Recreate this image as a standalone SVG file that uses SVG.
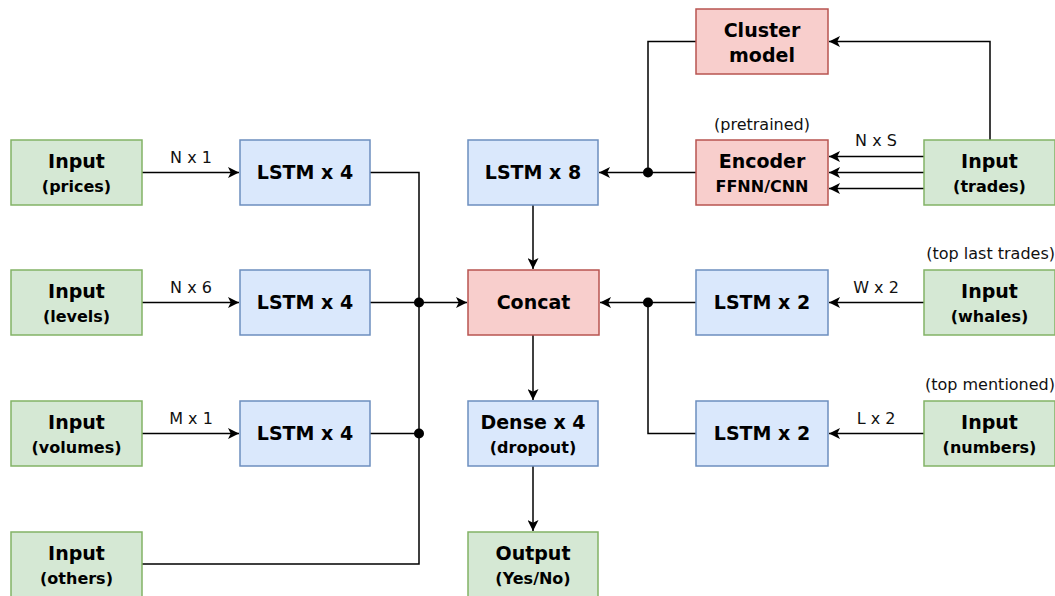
<svg xmlns="http://www.w3.org/2000/svg" width="1055" height="596" viewBox="0 0 1055 596">
<style>
.g{fill:#d5e8d4;stroke:#82b366;stroke-width:1.5}
.b{fill:#dae8fc;stroke:#6c8ebf;stroke-width:1.5}
.r{fill:#f8cecc;stroke:#b85450;stroke-width:1.5}
.t1{font-family:"DejaVu Sans",Verdana,sans-serif;font-weight:bold;font-size:19px;fill:#000;text-anchor:middle}
.t2{font-family:"DejaVu Sans",Verdana,sans-serif;font-weight:bold;font-size:16px;fill:#000;text-anchor:middle}
.lb{font-family:"DejaVu Sans",Verdana,sans-serif;font-size:16px;fill:#111;text-anchor:middle}
.e{fill:none;stroke:#000;stroke-width:1.5}
</style>
<defs>
<marker id="a" viewBox="0 0 10 10" refX="10" refY="5" markerWidth="11" markerHeight="11" markerUnits="userSpaceOnUse" orient="auto">
<path d="M0,0 L10,5 L0,10 L2.5,5 z" fill="#000"/>
</marker>
</defs>
<g id="connectors">
<path class="e" d="M142,172.5 H239" marker-end="url(#a)"/>
<path class="e" d="M142,302.5 H239" marker-end="url(#a)"/>
<path class="e" d="M142,433.5 H239" marker-end="url(#a)"/>
<path class="e" d="M370,172.5 H419 V564 H142"/>
<path class="e" d="M370,302.5 H467" marker-end="url(#a)"/>
<path class="e" d="M370,433.5 H419"/>
<circle cx="419" cy="302.5" r="5" fill="#000"/>
<circle cx="419" cy="433.5" r="5" fill="#000"/>
<path class="e" d="M533,205 V269" marker-end="url(#a)"/>
<path class="e" d="M533,335 V400" marker-end="url(#a)"/>
<path class="e" d="M533,466 V531" marker-end="url(#a)"/>
<path class="e" d="M696,302.5 H600" marker-end="url(#a)"/>
<path class="e" d="M696,433.5 H648 V302.5"/>
<circle cx="648" cy="302.5" r="5" fill="#000"/>
<path class="e" d="M924,302.5 H829" marker-end="url(#a)"/>
<path class="e" d="M924,433.5 H829" marker-end="url(#a)"/>
<path class="e" d="M696,172.5 H599" marker-end="url(#a)"/>
<path class="e" d="M696,41.5 H648 V172.5"/>
<circle cx="648" cy="172.5" r="5" fill="#000"/>
<path class="e" d="M924,156.5 H829" marker-end="url(#a)"/>
<path class="e" d="M924,172.5 H829" marker-end="url(#a)"/>
<path class="e" d="M924,188.5 H829" marker-end="url(#a)"/>
<path class="e" d="M990,140 V41.5 H829" marker-end="url(#a)"/>
<text class="lb" x="191" y="163">N x 1</text>
<text class="lb" x="191" y="293">N x 6</text>
<text class="lb" x="191" y="424">M x 1</text>
<text class="lb" x="876" y="146">N x S</text>
<text class="lb" x="876" y="293">W x 2</text>
<text class="lb" x="876" y="424">L x 2</text>
<text class="lb" x="762" y="130">(pretrained)</text>
<text class="lb" x="1055" y="259" style="text-anchor:end">(top last trades)</text>
<text class="lb" x="1055" y="390" style="text-anchor:end">(top mentioned)</text>
</g>
<g id="in-prices"><rect class="g" x="11" y="140" width="131" height="65"/><text class="t1" x="76.5" y="168">Input</text><text class="t2" x="76.5" y="192">(prices)</text></g>
<g id="in-levels"><rect class="g" x="11" y="270" width="131" height="65"/><text class="t1" x="76.5" y="298">Input</text><text class="t2" x="76.5" y="322">(levels)</text></g>
<g id="in-volumes"><rect class="g" x="11" y="401" width="131" height="65"/><text class="t1" x="76.5" y="429">Input</text><text class="t2" x="76.5" y="453">(volumes)</text></g>
<g id="in-others"><rect class="g" x="11" y="532" width="131" height="65"/><text class="t1" x="76.5" y="560">Input</text><text class="t2" x="76.5" y="584">(others)</text></g>
<g id="lstm1"><rect class="b" x="240" y="140" width="130" height="65"/><text class="t1" x="305" y="179">LSTM x 4</text></g>
<g id="lstm2"><rect class="b" x="240" y="270" width="130" height="65"/><text class="t1" x="305" y="309">LSTM x 4</text></g>
<g id="lstm3"><rect class="b" x="240" y="401" width="130" height="65"/><text class="t1" x="305" y="440">LSTM x 4</text></g>
<g id="lstm8"><rect class="b" x="468" y="140" width="130" height="65"/><text class="t1" x="533" y="179">LSTM x 8</text></g>
<g id="concat"><rect class="r" x="468" y="270" width="131" height="65"/><text class="t1" x="533.5" y="309">Concat</text></g>
<g id="dense"><rect class="b" x="468" y="401" width="130" height="65"/><text class="t1" x="533" y="429">Dense x 4</text><text class="t2" x="533" y="453">(dropout)</text></g>
<g id="output"><rect class="g" x="468" y="532" width="130" height="65"/><text class="t1" x="533" y="560">Output</text><text class="t2" x="533" y="584">(Yes/No)</text></g>
<g id="cluster"><rect class="r" x="696" y="9" width="132" height="65"/><text class="t1" x="762" y="37">Cluster</text><text class="t1" x="762" y="62">model</text></g>
<g id="encoder"><rect class="r" x="696" y="140" width="132" height="65"/><text class="t1" x="762" y="168">Encoder</text><text class="t2" x="762" y="192">FFNN/CNN</text></g>
<g id="lstm-w"><rect class="b" x="696" y="270" width="132" height="65"/><text class="t1" x="762" y="309">LSTM x 2</text></g>
<g id="lstm-n"><rect class="b" x="696" y="401" width="132" height="65"/><text class="t1" x="762" y="440">LSTM x 2</text></g>
<g id="in-trades"><rect class="g" x="924" y="140" width="131" height="65"/><text class="t1" x="989.5" y="168">Input</text><text class="t2" x="989.5" y="192">(trades)</text></g>
<g id="in-whales"><rect class="g" x="924" y="270" width="131" height="65"/><text class="t1" x="989.5" y="298">Input</text><text class="t2" x="989.5" y="322">(whales)</text></g>
<g id="in-numbers"><rect class="g" x="924" y="401" width="131" height="65"/><text class="t1" x="989.5" y="429">Input</text><text class="t2" x="989.5" y="453">(numbers)</text></g>
</svg>
